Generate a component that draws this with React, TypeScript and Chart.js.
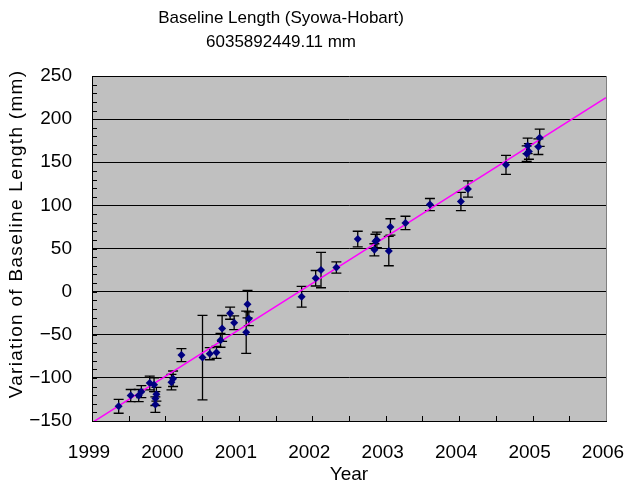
import { useEffect, useRef } from 'react';
import { Chart, registerables } from 'chart.js';

Chart.register(...registerables);

const titleLines = ['Baseline Length (Syowa-Hobart)', '6035892449.11 mm'];
const xTitle = 'Year';
const yTitle = 'Variation of Baseline Length (mm)';

const years = [
  1999.363, 1999.527, 1999.636, 1999.672, 1999.786, 1999.845, 1999.863, 1999.863, 1999.877,
  2000.082, 2000.104, 2000.218, 2000.505, 2000.604, 2000.695, 2000.75, 2000.772, 2000.881,
  2000.936, 2001.1, 2001.118, 2001.136, 2001.855, 2002.046, 2002.119, 2002.328, 2002.619,
  2002.846, 2002.86, 2002.88, 2003.042, 2003.064, 2003.269, 2003.602, 2004.024, 2004.12,
  2004.638, 2004.92, 2004.933, 2004.95, 2005.079, 2005.097,
];
const lengths = [
  -133, -120.5, -120.5, -116, -106, -108, -124, -131, -119,
  -105, -101, -73.6, -76.5, -72, -70.5, -56.5, -42.7, -25,
  -36, -47, -14.5, -31.5, -6, 15.5, 25, 28, 61,
  48.5, 58.5, 60, 47, 75, 79.7, 101, 104.5, 119,
  147, 160, 169, 162.5, 168, 178.5,
];
const errors = [
  8, 7, 7, 7, 8, 8, 8, 9, 8,
  9, 9, 7.5, 49, 7, 7, 8, 15, 7,
  8, 24.5, 16, 8, 12, 9, 20.5, 6.5, 9,
  7, 8, 9, 17, 9.5, 7.7, 7, 10.5, 9.5,
  11, 9, 9, 9, 9, 10,
];
const trendYears = [1999, 2006];
const trendValues = [-152, 225];

const X_MIN = 1999;
const X_MAX = 2006;
const Y_MIN = -150;
const Y_MAX = 250;

const FONT = '"Liberation Sans", Arial, sans-serif';

const bgPlugin = {
  id: 'plotBg',
  beforeDraw(chart: any) {
    const { ctx, chartArea: a } = chart;
    ctx.save();
    ctx.fillStyle = '#C0C0C0';
    ctx.fillRect(a.left, a.top, a.right - a.left, a.bottom - a.top);
    ctx.restore();
  },
};

const errorBarPlugin = {
  id: 'errorBars',
  beforeDatasetsDraw(chart: any) {
    const { ctx } = chart;
    const x = chart.scales.x;
    const y = chart.scales.y;
    ctx.save();
    ctx.strokeStyle = '#000000';
    ctx.lineWidth = 1.3;
    years.forEach((yr, i) => {
      const px = x.getPixelForValue(yr);
      const top = y.getPixelForValue(lengths[i] + errors[i]);
      const bot = y.getPixelForValue(lengths[i] - errors[i]);
      ctx.beginPath();
      ctx.moveTo(px, top);
      ctx.lineTo(px, bot);
      ctx.moveTo(px - 5, top);
      ctx.lineTo(px + 5, top);
      ctx.moveTo(px - 5, bot);
      ctx.lineTo(px + 5, bot);
      ctx.stroke();
    });
    ctx.restore();
  },
};

const frameTextPlugin = {
  id: 'frameText',
  afterDraw(chart: any) {
    const { ctx, chartArea: a } = chart;
    const x = chart.scales.x;
    const y = chart.scales.y;
    ctx.save();
    ctx.strokeStyle = '#000000';
    ctx.lineWidth = 1;
    ctx.beginPath();
    for (let v = X_MIN; v <= X_MAX + 1e-9; v += 0.5) {
      const px = Math.round(x.getPixelForValue(v)) + 0.5;
      ctx.moveTo(px, a.bottom);
      ctx.lineTo(px, a.bottom - 5);
    }
    for (let v = Y_MIN; v <= Y_MAX + 1e-9; v += 10) {
      const py = Math.round(y.getPixelForValue(v)) + 0.5;
      ctx.moveTo(a.left, py);
      ctx.lineTo(a.left + 5, py);
    }
    ctx.stroke();
    ctx.strokeStyle = '#808080';
    ctx.beginPath();
    ctx.moveTo(a.right + 0.5, a.top);
    ctx.lineTo(a.right + 0.5, a.bottom);
    ctx.stroke();
    ctx.fillStyle = '#000000';
    ctx.textAlign = 'center';
    ctx.textBaseline = 'middle';
    ctx.font = `17px ${FONT}`;
    ctx.fillText(titleLines[0], 281, 18);
    ctx.fillText(titleLines[1], 281, 42);
    ctx.translate(17, 234);
    ctx.rotate(-Math.PI / 2);
    ctx.font = `19px ${FONT}`;
    (ctx as any).letterSpacing = '1.3px';
    ctx.fillText(yTitle, 0, 0);
    ctx.restore();
  },
};

export default function App() {
  const ref = useRef<HTMLCanvasElement | null>(null);

  useEffect(() => {
    if (!ref.current) return;
    const chart = new Chart(ref.current, {
      type: 'scatter',
      data: {
        datasets: [
          {
            type: 'scatter',
            label: 'Baseline length',
            data: years.map((yr, i) => ({ x: yr, y: lengths[i] })),
            pointStyle: 'rectRot',
            pointRadius: 4,
            pointBackgroundColor: '#000080',
            pointBorderColor: '#000080',
            pointBorderWidth: 0,
            order: 0,
          },
          {
            type: 'line',
            label: 'Trend',
            data: trendYears.map((yr, i) => ({ x: yr, y: trendValues[i] })),
            borderColor: '#FF00FF',
            borderWidth: 1.5,
            pointRadius: 0,
            fill: false,
            order: 1,
          } as any,
        ],
      },
      options: {
        animation: false,
        responsive: true,
        maintainAspectRatio: false,
        layout: { padding: { top: 76, left: 0, right: 19, bottom: 0 } },
        plugins: {
          legend: { display: false },
          tooltip: { enabled: false },
          title: { display: false },
        },
        scales: {
          x: {
            type: 'linear',
            min: X_MIN,
            max: X_MAX,
            afterFit: (s: any) => {
              s.height = 65;
              s.paddingLeft = 0;
              s.paddingRight = 0;
            },
            ticks: {
              stepSize: 1,
              padding: 20,
              labelOffset: -3,
              color: '#000000',
              font: { family: FONT, size: 19 },
              callback: (v: any) => String(v),
            },
            grid: { display: false, drawTicks: false },
            border: { display: true, color: '#000000', width: 1 },
            title: {
              display: true,
              text: xTitle,
              color: '#000000',
              font: { family: FONT, size: 19 },
              padding: { top: 0, bottom: 0 },
            },
          },
          y: {
            type: 'linear',
            min: Y_MIN,
            max: Y_MAX,
            afterFit: (s: any) => {
              s.width = 92;
              s.paddingTop = 0;
              s.paddingBottom = 0;
            },
            ticks: {
              stepSize: 50,
              padding: 20,
              color: '#000000',
              font: { family: FONT, size: 19 },
              callback: (v: any) => (Number(v) < 0 ? '\u2212' + Math.abs(Number(v)) : String(v)),
            },
            grid: { color: '#000000', lineWidth: 1, drawTicks: false },
            border: { display: true, color: '#000000', width: 1 },
          },
        },
      },
      plugins: [bgPlugin, errorBarPlugin, frameTextPlugin],
    });
    return () => chart.destroy();
  }, []);

  return (
    <div style={{ position: 'absolute', left: 0, top: 0, width: 625, height: 486, background: '#ffffff' }}>
      <canvas ref={ref} />
    </div>
  );
}
